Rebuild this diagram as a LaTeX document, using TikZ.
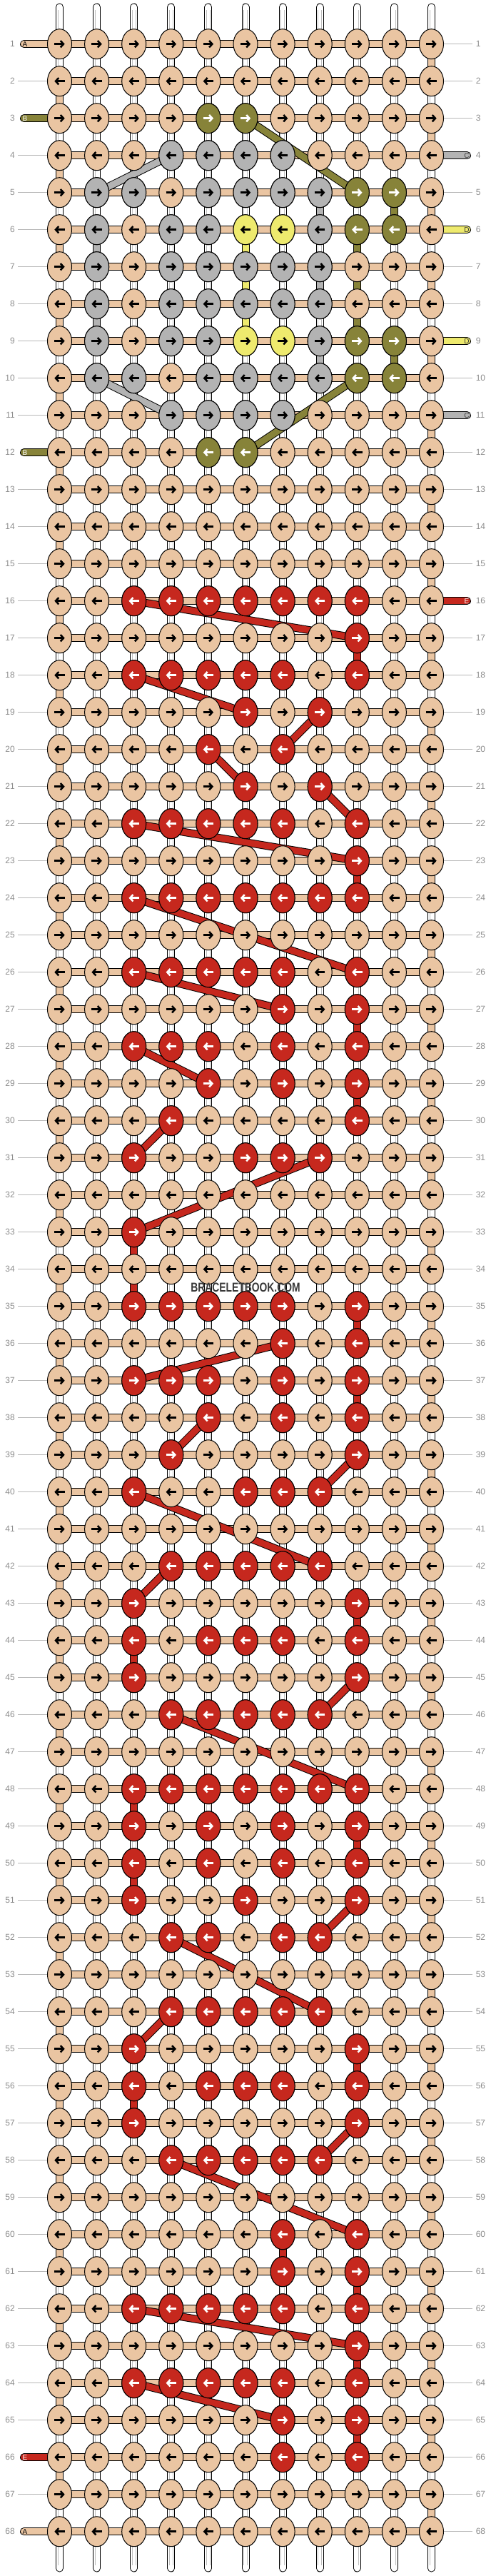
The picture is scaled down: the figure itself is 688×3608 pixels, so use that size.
\documentclass[tikz,border=0pt]{standalone}
\usepackage{fontspec}
\usepackage{graphicx}
\setmainfont{Liberation Sans}
\usetikzlibrary{shapes.geometric,arrows.meta}

\definecolor{threadA}{RGB}{234,197,162}
\definecolor{threadB}{RGB}{135,131,57}
\definecolor{threadC}{RGB}{179,179,179}
\definecolor{threadD}{RGB}{238,234,110}
\definecolor{threadE}{RGB}{198,40,30}

% knot at row #1, column #2, fill #3, arrow colour #4
\newcommand\knotat[4]{%
  \node[knot,fill=#3] (k-#1-#2) at (p-#1-#2) {};
  \ifodd#1\relax
    \draw[dir,draw=#4] ([xshift=-5.4pt]k-#1-#2.center) -- ([xshift=5.4pt]k-#1-#2.center);
  \else
    \draw[dir,draw=#4] ([xshift=5.4pt]k-#1-#2.center) -- ([xshift=-5.4pt]k-#1-#2.center);
  \fi}

\begin{document}
\begin{tikzpicture}[x=0.75pt,y=0.75pt,yscale=-1,xscale=1,
    strand/.style={draw=black,line width=0.75pt,double=#1,double distance=6.75pt},
    warp/.style={strand=white},
    warpcore/.style={draw=black!25,line width=0.6pt,double=white,double distance=3pt},
    knot/.style={ellipse,draw=black,line width=0.75pt,minimum width=25.5pt,minimum height=31.5pt,inner sep=0pt},
    dir/.style={line width=1.9pt,-{Straight Barb[length=3.2pt,width=7pt]}},
    rowline/.style={draw=black!28,line width=0.75pt},
    rownum/.style={text=black!45,font=\fontsize{9}{9}\selectfont,inner sep=0pt},
    tag/.style={font=\fontsize{7.5}{7.5}\selectfont,inner sep=0pt}]
\useasboundingbox (0,0) rectangle (688,3608);

% knot centres
\foreach \r in {1,...,68}
  \foreach \c in {1,...,11}
    \coordinate (p-\r-\c) at ({83.5+52.1*(\c-1)},{61.7+52*(\r-1)});
\foreach \c in {1,...,11}{
  \coordinate (t-\c) at ({83.5+52.1*(\c-1)},10);
  \coordinate (b-\c) at ({83.5+52.1*(\c-1)},3597);
}

% white warp threads
\foreach \c in {1,...,11}{
  \draw[warp,line cap=round] (t-\c) -- (p-1-\c);
  \draw[warp,line cap=round] (p-68-\c) -- (b-\c);
  \draw[warpcore,shorten <=3pt] (t-\c) -- (p-1-\c);
  \draw[warpcore,shorten >=3pt] (p-68-\c) -- (b-\c);
}
\foreach \r [count=\s from 2] in {1,...,67}
  \foreach \c in {1,...,11}{
    \draw[warp] (p-\r-\c) -- (p-\s-\c);
    \draw[warpcore] (p-\r-\c) -- (p-\s-\c);
  }

% A turns at the edges
\foreach \r [count=\s from 2] in {1,...,67}{
  \ifodd\r\relax
    \draw[strand=threadA] (p-\r-11) -- (p-\s-11);
  \else
    \draw[strand=threadA] (p-\r-1) -- (p-\s-1);
  \fi
}

% coloured threads running straight down
\foreach \col/\r/\c in {threadB/5/10,threadB/6/9,threadB/7/9,threadB/8/9,threadB/9/10,
    threadC/5/8,threadC/6/2,threadC/7/8,threadC/8/2,threadC/9/8,
    threadD/6/6,threadD/7/6,threadD/8/6,
    threadE/17/9,threadE/23/9,threadE/27/9,threadE/29/9,threadE/33/3,threadE/34/3,
    threadE/35/9,threadE/37/9,threadE/43/9,threadE/44/3,threadE/48/3,threadE/49/9,
    threadE/50/3,threadE/55/9,threadE/56/3,threadE/60/7,threadE/61/9,threadE/63/9,
    threadE/65/9}{
  \pgfmathtruncatemacro\s{\r+1}
  \draw[strand=\col] (p-\r-\c) -- (p-\s-\c);
}

% A rows
\foreach \r in {1,...,68}
  \draw[strand=threadA] (p-\r-1) -- (p-\r-11);

% carried threads
\foreach \col/\a/\b in {threadB/3-6/5-9,threadB/10-9/12-6,threadC/4-4/5-2,threadC/10-2/11-4,
    threadE/16-3/17-9,threadE/18-3/19-6,threadE/19-8/20-7,threadE/20-5/21-6,
    threadE/21-8/22-9,threadE/22-3/23-9,threadE/24-3/26-9,threadE/26-3/27-7,
    threadE/28-3/29-5,threadE/30-4/31-3,threadE/31-8/33-3,threadE/36-7/37-3,
    threadE/38-5/39-4,threadE/39-9/40-8,threadE/40-3/42-8,threadE/42-4/43-3,
    threadE/45-9/46-8,threadE/46-4/48-9,threadE/51-9/52-8,threadE/52-4/54-8,
    threadE/54-4/55-3,threadE/57-9/58-8,threadE/58-4/60-9,threadE/62-3/63-9,
    threadE/64-3/65-7}
  \draw[strand=\col] (p-\a) -- (p-\b);

% loose ends
\foreach \col/\r/\txt/\tc in {threadA/1/A/black,threadB/3/B/white,threadB/12/B/white,
    threadE/66/E/white,threadA/68/A/black}{
  \coordinate (l-\r) at (33.5,{61.7+52*(\r-1)});
  \draw[strand=\col,line cap=round] (l-\r) -- (p-\r-1);
  \node[tag,text=\tc] (lt-\r) at (35,{61.7+52*(\r-1)}) {\txt};
}
\foreach \col/\r/\txt/\tc in {threadC/4/C/black!75,threadD/6/D/black!80,threadD/9/D/black!80,
    threadC/11/C/black!75,threadE/16/E/white}{
  \coordinate (e-\r) at (654.5,{61.7+52*(\r-1)});
  \draw[strand=\col,line cap=round] (p-\r-11) -- (e-\r);
  \node[tag,text=\tc] (et-\r) at (654,{61.7+52*(\r-1)}) {\txt};
}

% knots
\foreach \r in {1,...,68}
  \foreach \c in {1,...,11}
    \knotat{\r}{\c}{threadA}{black};
\foreach \r/\cs in {3/{5,6},5/{9,10},6/{9,10},9/{9,10},10/{9,10},12/{5,6}}
  \foreach \c in \cs
    \knotat{\r}{\c}{threadB}{white};
\foreach \r/\cs in {4/{4,5,6,7},5/{2,3,5,6,7,8},6/{2,4,5,8},7/{2,4,5,6,7,8},
    8/{2,4,5,6,7,8},9/{2,4,5,8},10/{2,3,5,6,7,8},11/{4,5,6,7}}
  \foreach \c in \cs
    \knotat{\r}{\c}{threadC}{black};
\foreach \r/\cs in {6/{6,7},9/{6,7}}
  \foreach \c in \cs
    \knotat{\r}{\c}{threadD}{black};
\foreach \r/\cs in {16/{3,4,5,6,7,8,9},17/{9},18/{3,4,5,6,7,9},19/{6,8},20/{5,7},
    21/{6,8},22/{3,4,5,6,7,9},23/{9},24/{3,4,5,6,7,8,9},26/{3,4,5,6,7,9},
    27/{7,9},28/{3,4,5,7,9},29/{5,7,9},30/{4,9},31/{3,6,7,8},33/{3},
    35/{3,4,5,6,7,9},36/{7,9},37/{3,4,5,7,9},38/{5,7,9},39/{4,9},40/{3,6,7,8},
    42/{4,5,6,7,8},43/{3,9},44/{3,5,6,7,9},45/{3,9},46/{4,5,6,7,8},
    48/{3,4,5,6,7,8,9},49/{3,5,7,9},50/{3,5,7,9},51/{3,6,9},52/{4,5,7,8},
    54/{4,5,6,7,8},55/{3,9},56/{3,5,6,7,9},57/{3,9},58/{4,5,6,7,8},
    60/{7,9},61/{7,9},62/{3,4,5,6,7,9},63/{9},64/{3,4,5,6,7,9},65/{7,9},66/{7,9}}
  \foreach \c in \cs
    \knotat{\r}{\c}{threadE}{white};

% row numbers
\foreach \r in {1,...,68}{
  \node[rownum,anchor=east] (ln-\r) at (21,{61.7+52*(\r-1)}) {\r};
  \node[rownum,anchor=west] (rn-\r) at (666.5,{61.7+52*(\r-1)}) {\r};
  \coordinate (lg-\r) at (25,{61.7+52*(\r-1)});
  \coordinate (rg-\r) at (662,{61.7+52*(\r-1)});
  \pgfmathtruncatemacro\lstub{(\r==1)||(\r==3)||(\r==12)||(\r==66)||(\r==68)}
  \pgfmathtruncatemacro\rstub{(\r==4)||(\r==6)||(\r==9)||(\r==11)||(\r==16)}
  \ifnum\lstub=0 \draw[rowline] (lg-\r) -- (k-\r-1.west); \fi
  \ifnum\rstub=0 \draw[rowline] (k-\r-11.east) -- (rg-\r); \fi
}

\node[font=\bfseries\fontsize{13.5}{13.5}\selectfont,text=black!78,inner sep=0pt] (mark)
  at (344,1803.5) {\scalebox{0.77}[1]{BRACELETBOOK.COM}};
\end{tikzpicture}
\end{document}
